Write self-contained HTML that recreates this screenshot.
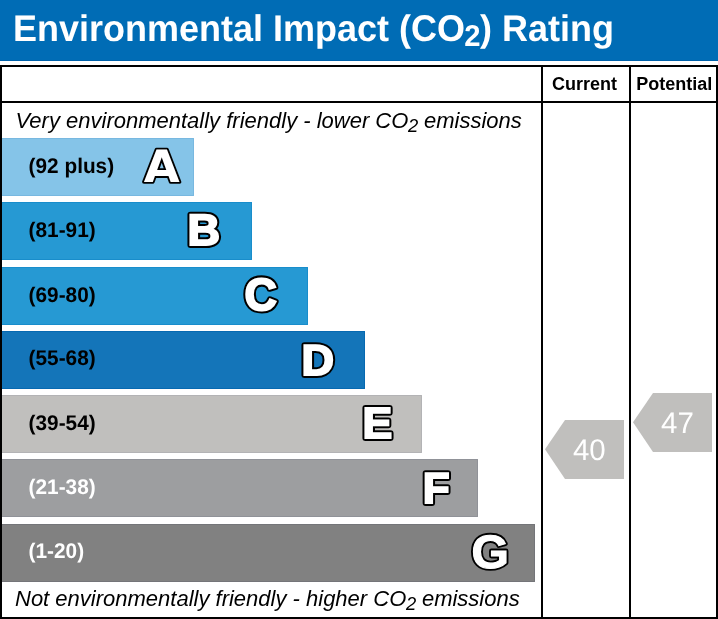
<!DOCTYPE html>
<html lang="en"><head><meta charset="utf-8"><title>Environmental Impact (CO2) Rating</title>
<style>
html,body{margin:0;padding:0;background:#fff;}
body{width:718px;height:619px;overflow:hidden;}
svg{display:block;}
text{font-family:"Liberation Sans",sans-serif;}
.t{font-weight:bold;font-size:36px;fill:#fff;text-rendering:geometricPrecision;}
.h{font-weight:bold;font-size:18px;fill:#000;}
.i{font-style:italic;font-size:22px;fill:#000;}
.r{font-weight:bold;font-size:20.8px;text-rendering:geometricPrecision;}
.n{font-size:29.5px;fill:#fff;text-anchor:middle;text-rendering:geometricPrecision;}
.LL{font-weight:bold;text-rendering:geometricPrecision;}
.LD{font-family:"DejaVu Sans","Liberation Sans",sans-serif;font-weight:bold;text-rendering:geometricPrecision;}
</style></head><body>
<svg width="718" height="619" viewBox="0 0 718 619">
<rect x="0" y="0" width="718" height="619" fill="#fff"/>
<rect x="0" y="0" width="718" height="61" fill="#006CB5"/>
<rect x="0" y="60" width="718" height="1" fill="#0062AB"/>
<text class="t" transform="translate(12.9 41.45) scale(1 1.03)">Environmental Impact (CO<tspan font-size="29.2" dy="4.5" dx="-0.6">2</tspan><tspan dy="-4.5" dx="-0.5">) Rating</tspan></text>
<rect x="1" y="66" width="716" height="552" fill="none" stroke="#000" stroke-width="2"/>
<rect x="2" y="101" width="714" height="2" fill="#000"/>
<rect x="541" y="66" width="2" height="552" fill="#000"/>
<rect x="629" y="66" width="2" height="552" fill="#000"/>
<text class="h" x="552" y="89.7">Current</text>
<text class="h" x="636.3" y="89.7">Potential</text>
<text class="i" x="15.5" y="127.7">Very environmentally friendly - lower CO<tspan font-size="18.4" dy="4.2" dx="-0.3">2</tspan><tspan dy="-4.2" dx="-0.4"> emissions</tspan></text>
<text class="i" x="15" y="605.8">Not environmentally friendly - higher CO<tspan font-size="18.4" dy="4.2" dx="-0.3">2</tspan><tspan dy="-4.2" dx="-0.4"> emissions</tspan></text>

<rect x="2" y="138" width="192" height="58" fill="#85C4E8"/>
<path d="M2 138.5H193.5V195.5H2" fill="none" stroke="#78B8E0" stroke-width="1"/>
<text class="r" transform="translate(28.6 172.9) scale(1 1.02)" fill="#000">(92 plus)</text>
<g transform="translate(143.67 182.20) scale(1.0560 1.0101)"><text class="LD" font-size="44.0" fill="#000" stroke="#000" stroke-width="3.60" stroke-linejoin="round">A</text><text class="LD" font-size="44.0" fill="#fff">A</text></g>
<rect x="2" y="202" width="250" height="58" fill="#2699D3"/>
<path d="M2 202.5H251.5V259.5H2" fill="none" stroke="#198DCB" stroke-width="1"/>
<text class="r" transform="translate(28.6 236.9) scale(1 1.02)" fill="#000">(81-91)</text>
<g transform="translate(187.58 245.00) scale(1.0340 1.0068)"><text class="LL" font-size="43.6" fill="#000" stroke="#000" stroke-width="6.00" stroke-linejoin="round">B</text><text class="LL" font-size="43.6" fill="#fff" stroke="#fff" stroke-width="2.00" stroke-linejoin="miter">B</text></g>
<rect x="2" y="267" width="306" height="58" fill="#2699D3"/>
<path d="M2 267.5H307.5V324.5H2" fill="none" stroke="#198DCB" stroke-width="1"/>
<text class="r" transform="translate(28.6 302.0) scale(1 1.02)" fill="#000">(69-80)</text>
<g transform="translate(244.56 310.35) scale(1.0276 1.0366)"><text class="LL" font-size="43.6" fill="#000" stroke="#000" stroke-width="6.00" stroke-linejoin="round">C</text><text class="LL" font-size="43.6" fill="#fff" stroke="#fff" stroke-width="2.00" stroke-linejoin="miter">C</text></g>
<rect x="2" y="331" width="363" height="58" fill="#1475B9"/>
<path d="M2 331.5H364.5V388.5H2" fill="none" stroke="#0769B1" stroke-width="1"/>
<text class="r" transform="translate(28.6 365.0) scale(1 1.02)" fill="#000">(55-68)</text>
<g transform="translate(301.58 374.80) scale(1.0327 0.9934)"><text class="LL" font-size="43.6" fill="#000" stroke="#000" stroke-width="6.00" stroke-linejoin="round">D</text><text class="LL" font-size="43.6" fill="#fff" stroke="#fff" stroke-width="2.00" stroke-linejoin="miter">D</text></g>
<rect x="2" y="395" width="420" height="58" fill="#C0BFBD"/>
<path d="M2 395.5H421.5V452.5H2" fill="none" stroke="#B3B3B5" stroke-width="1"/>
<text class="r" transform="translate(28.6 429.9) scale(1 1.02)" fill="#000">(39-54)</text>
<g transform="translate(362.41 437.90) scale(1.0221 1.0001)"><text class="LL" font-size="43.6" fill="#000" stroke="#000" stroke-width="6.00" stroke-linejoin="round">E</text><text class="LL" font-size="43.6" fill="#fff" stroke="#fff" stroke-width="2.00" stroke-linejoin="miter">E</text></g>
<rect x="2" y="459" width="476" height="58" fill="#9D9EA0"/>
<path d="M2 459.5H477.5V516.5H2" fill="none" stroke="#909298" stroke-width="1"/>
<text class="r" transform="translate(28.6 494.0) scale(1 1.02)" fill="#fff">(21-38)</text>
<g transform="translate(422.65 502.80) scale(1.0088 0.9934)"><text class="LL" font-size="43.6" fill="#000" stroke="#000" stroke-width="6.00" stroke-linejoin="round">F</text><text class="LL" font-size="43.6" fill="#fff" stroke="#fff" stroke-width="2.00" stroke-linejoin="miter">F</text></g>
<rect x="2" y="524" width="533" height="58" fill="#818181"/>
<path d="M2 524.5H534.5V581.5H2" fill="none" stroke="#747579" stroke-width="1"/>
<text class="r" transform="translate(28.6 558.0) scale(1 1.02)" fill="#fff">(1-20)</text>
<g transform="translate(471.53 567.93) scale(1.0354 1.0084)"><text class="LL" font-size="46.5" fill="#000" stroke="#000" stroke-width="4.80" stroke-linejoin="round">G</text><text class="LL" font-size="46.5" fill="#fff" stroke="#fff" stroke-width="1.10" stroke-linejoin="miter">G</text></g>
<polygon points="545,449.3 565,420 624,420 624,479 565,479" fill="#C0BFBD"/>
<text class="n" transform="translate(589.3 460.2) scale(1 1.01)">40</text>
<polygon points="633,422.3 653,393 712,393 712,452 653,452" fill="#C0BFBD"/>
<text class="n" transform="translate(677.4 433.1) scale(1 1.01)">47</text>
</svg>
</body></html>
